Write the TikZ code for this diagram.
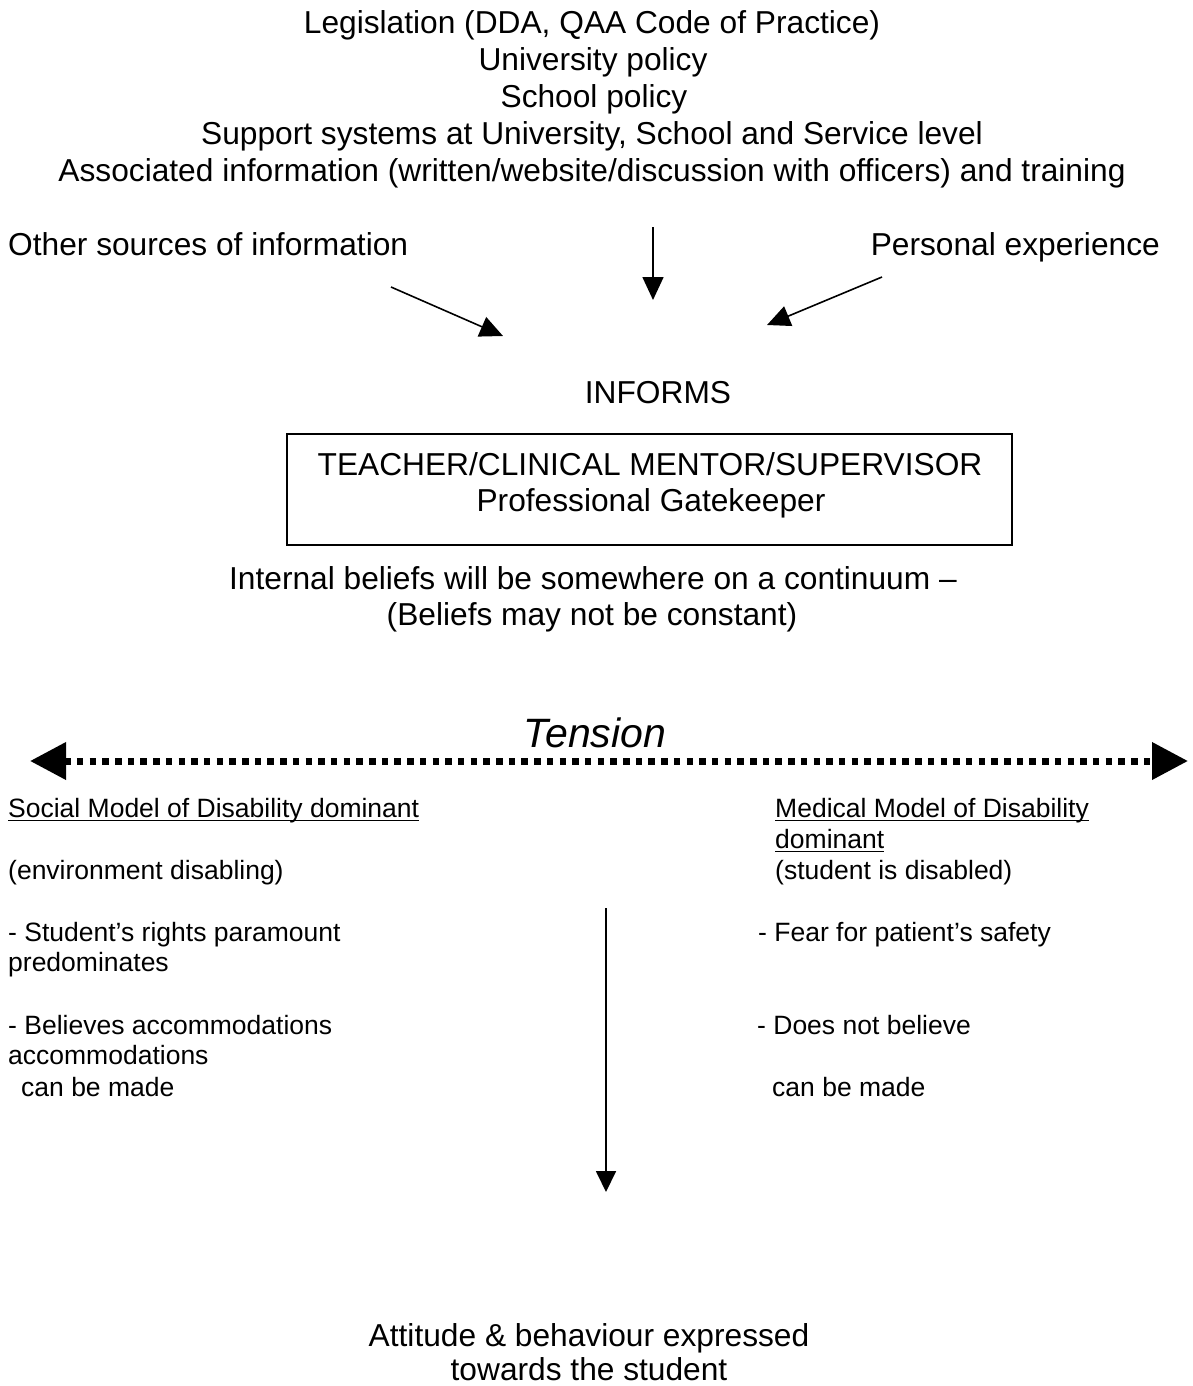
\documentclass[tikz,border=0pt]{standalone}
\usepackage{fontspec}
\setmainfont{Liberation Sans}
\usetikzlibrary{arrows.meta}
\begin{document}
\begin{tikzpicture}[x=1pt,y=-1pt,
  big/.style={font=\fontsize{31.7}{36.5}\selectfont, inner sep=0pt},
  small/.style={font=\fontsize{26.5}{31}\selectfont, inner sep=0pt},
  tens/.style={font=\fontsize{41}{46}\selectfont\itshape, inner sep=0pt},
  thinarrow/.style={line width=1.6pt, -{Triangle[length=23pt,width=21pt]}},
  uline/.style={line width=1.3pt},
  dotarrow/.style={line width=7pt, dash pattern=on 6.5pt off 6.2pt,
     {Triangle[length=36pt,width=36pt]}-{Triangle[length=36pt,width=36pt]}}]
\useasboundingbox (0,0) rectangle (1193,1386);
% top block
\node[big,anchor=base] (l1) at (592,34) {Legislation (DDA, QAA Code of Practice)};
\node[big,anchor=base] (l2) at (593,71) {University policy};
\node[big,anchor=base] (l3) at (594,108) {School policy};
\node[big,anchor=base] (l4) at (592,144) {Support systems at University, School and Service level};
\node[big,anchor=base] (l5) at (592,181) {Associated information (written/website/discussion with officers) and training};
\node[big,anchor=base west] (other) at (8,255) {Other sources of information};
\node[big,anchor=base east] (pers) at (1160,255) {Personal experience};
% arrows
\coordinate (a1s) at (391,287); \coordinate (a1e) at (503,336);
\coordinate (a2s) at (653,227); \coordinate (a2e) at (653,300);
\coordinate (a3s) at (882,277); \coordinate (a3e) at (767,325);
\draw[thinarrow] (a1s) -- (a1e);
\draw[thinarrow] (a2s) -- (a2e);
\draw[thinarrow] (a3s) -- (a3e);
\node[big,anchor=base] (informs) at (658,403) {INFORMS};
% box
\node[draw,line width=1.8pt,minimum width=725pt,minimum height=111pt,inner sep=0pt] (box) at (649.5,489.5) {};
\node[big,anchor=base] (t1) at (650,475) {TEACHER/CLINICAL MENTOR/SUPERVISOR};
\node[big,anchor=base] (t2) at (651,511) {Professional Gatekeeper};
\node[big,anchor=base] (ib1) at (593,589) {Internal beliefs will be somewhere on a continuum –};
\node[big,anchor=base] (ib2) at (592,625) {(Beliefs may not be constant)};
% tension
\node[tens,anchor=base] (tension) at (595,747) {Tension};
\coordinate (tl) at (30,761); \coordinate (tr) at (1188,761);
\draw[dotarrow] (tl) -- (tr);
% left column
\node[small,anchor=base west] (s1) at (8,817.5) {Social Model of Disability dominant};
\draw[uline] ([yshift=-3pt]s1.base west) -- ([yshift=-3pt]s1.base east);
\node[small,anchor=base west] (s2) at (8,879.5) {(environment disabling)};
\node[small,anchor=base west] (s3) at (8,941.5) {- Student’s rights paramount};
\node[small,anchor=base west] (s4) at (8,971.5) {predominates};
\node[small,anchor=base west] (s5) at (8,1034.5) {- Believes accommodations};
\node[small,anchor=base west] (s6) at (8,1064.5) {accommodations};
\node[small,anchor=base west] (s7) at (21,1096.5) {can be made};
% right column
\node[small,anchor=base west] (m1) at (775,817.5) {Medical Model of Disability};
\draw[uline] ([yshift=-3pt]m1.base west) -- ([yshift=-3pt]m1.base east);
\node[small,anchor=base west] (m2) at (775,848.5) {dominant};
\draw[uline] ([yshift=-3pt]m2.base west) -- ([yshift=-3pt]m2.base east);
\node[small,anchor=base west] (m3) at (775,879.5) {(student is disabled)};
\node[small,anchor=base west] (m4) at (758,941.5) {- Fear for patient’s safety};
\node[small,anchor=base west] (m5) at (757,1034.5) {- Does not believe};
\node[small,anchor=base west] (m6) at (772,1096.5) {can be made};
% vertical arrow
\coordinate (vs) at (606,908); \coordinate (ve) at (606,1192);
\draw[line width=1.8pt, -{Triangle[length=21pt,width=20pt]}] (vs) -- (ve);
% bottom
\node[big,anchor=base] (b1) at (589,1346) {Attitude \& behaviour expressed};
\node[big,anchor=base] (b2) at (589,1380) {towards the student};
\end{tikzpicture}
\end{document}
